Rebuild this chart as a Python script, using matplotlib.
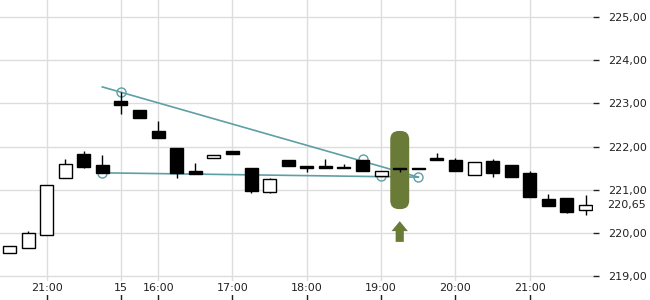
"""15-minute candlestick chart with two trend lines and a signal marker."""

import matplotlib
matplotlib.use("Agg")
import matplotlib.pyplot as plt
import matplotlib.transforms as mtransforms
from matplotlib.patches import FancyBboxPatch, Polygon

# Candles (15 min)
opens = [219.53, 219.65, 219.95, 221.27, 221.83, 221.57,
         223.05, 222.85, 222.36, 221.97, 221.43, 221.73, 221.90, 221.50,
         220.95, 221.69, 221.55, 221.55, 221.52, 221.69, 221.32, 221.50,
         221.50, 221.73, 221.69, 221.34, 221.66, 221.57, 221.39, 220.78,
         220.81, 220.53]
closes = [219.70, 220.00, 221.11, 221.59, 221.52, 221.39,
          222.96, 222.66, 222.20, 221.39, 221.36, 221.80, 221.83, 220.97,
          221.25, 221.55, 221.50, 221.50, 221.50, 221.43, 221.43, 221.48,
          221.48, 221.69, 221.43, 221.64, 221.39, 221.29, 220.83, 220.62,
          220.48, 220.65]
highs = [219.70, 220.04, 221.11, 221.71, 221.90, 221.80,
         223.26, 222.85, 222.59, 221.97, 221.62, 221.80, 221.90, 221.50,
         221.27, 221.69, 221.55, 221.71, 221.59, 221.69, 221.43, 221.50,
         221.50, 221.85, 221.73, 221.64, 221.71, 221.57, 221.43, 220.90,
         220.81, 220.88]
lows = [219.53, 219.65, 219.95, 221.27, 221.50, 221.39,
        222.75, 222.66, 222.20, 221.27, 221.36, 221.73, 221.83, 220.92,
        220.92, 221.55, 221.41, 221.50, 221.50, 221.43, 221.32, 221.41,
        221.48, 221.69, 221.43, 221.34, 221.29, 221.29, 220.83, 220.62,
        220.46, 220.41]

tick_pos = [2, 6, 8, 12, 16, 20, 24, 28]
tick_labels = ["21:00", "15", "16:00", "17:00", "18:00", "19:00", "20:00", "21:00"]
price_ticks = [219, 220, 221, 222, 223, 224, 225]
last_price = 220.65

# trend lines: (index, price) end points, circles on touch points
upper_line = ([5, 22], [223.38, 221.29])
lower_line = ([5, 22], [221.39, 221.29])
touch_x = [6, 19, 5, 20, 22]
touch_y = [223.26, 221.71, 221.39, 221.32, 221.29]

# signal marker
signal_x = 21
signal_top, signal_bottom = 222.36, 220.55
arrow_top, arrow_neck, arrow_bottom = 220.27, 220.04, 219.79

TEAL = "#5e9fa6"
OLIVE = "#6a7b38"

fig = plt.figure(figsize=(6.5, 3), dpi=100)
ax = fig.add_axes([0, 0, 593 / 650, 1])
ax.set_xlim(-0.51, 31.4)
ax.set_ylim(218.444, 225.394)

ax.grid(True, color="#dddddd", linewidth=1)
ax.set_axisbelow(True)
for side in ["top", "bottom", "left", "right"]:
    ax.spines[side].set_visible(False)

# trend lines
ax.plot(*upper_line, color=TEAL, linewidth=1.2, zorder=2)
ax.plot(*lower_line, color=TEAL, linewidth=1.2, zorder=2)
ax.plot(touch_x, touch_y, linestyle="none", marker="o", markersize=6.5,
        markerfacecolor="none", markeredgecolor=TEAL, markeredgewidth=1, zorder=2)

# signal marker (rounded bar), aspect-corrected rounding
x0, x1 = ax.get_xlim()
y0, y1 = ax.get_ylim()
px_x = 593 / (x1 - x0)
px_y = 300 / (y1 - y0)
aspect = px_x / px_y
ax.add_patch(FancyBboxPatch((signal_x - 0.51, signal_bottom), 1.02,
                            signal_top - signal_bottom,
                            boxstyle="round,pad=0,rounding_size=0.46",
                            mutation_aspect=aspect, facecolor=OLIVE,
                            edgecolor="none", zorder=3))
head_w, shaft_w = 0.44, 0.22
ax.add_patch(Polygon([(signal_x, arrow_top), (signal_x + head_w, arrow_neck),
                      (signal_x + shaft_w, arrow_neck), (signal_x + shaft_w, arrow_bottom),
                      (signal_x - shaft_w, arrow_bottom), (signal_x - shaft_w, arrow_neck),
                      (signal_x - head_w, arrow_neck)],
                     closed=True, facecolor=OLIVE, edgecolor="none", zorder=3))

# candles
xs = list(range(len(opens)))
ax.vlines(xs, lows, highs, color="black", linewidth=1, zorder=4)
bottoms = [min(o, c) for o, c in zip(opens, closes)]
heights = [max(abs(c - o), 0.02) for o, c in zip(opens, closes)]
fills = ["white" if c > o else "black" for o, c in zip(opens, closes)]
ax.bar(xs, heights, bottom=bottoms, width=0.7, color=fills,
       edgecolor="black", linewidth=1, zorder=5)

# axes ticks
ax.set_xticks(tick_pos)
ax.set_xticklabels(tick_labels)
ax.tick_params(axis="x", direction="in", length=5, width=1, color="#222222",
               pad=-12, labelsize=8, labelcolor="#222222")
for lbl in ax.get_xticklabels():
    lbl.set_bbox(dict(facecolor="white", edgecolor="none", pad=1.5))

ax.yaxis.tick_right()
ax.set_yticks(price_ticks)
ax.set_yticklabels([f"{v:.2f}".replace(".", ",") for v in price_ticks])
ax.tick_params(axis="y", direction="out", length=4, width=1, color="#222222",
               pad=7, labelsize=8, labelcolor="#222222")
trans = mtransforms.blended_transform_factory(ax.transAxes, ax.transData)
ax.text(1 + 14 / 593, last_price, f"{last_price:.2f}".replace(".", ","),
        transform=trans, ha="left", va="center", fontsize=8, color="#222222")

fig.savefig("out.png", dpi=100)
